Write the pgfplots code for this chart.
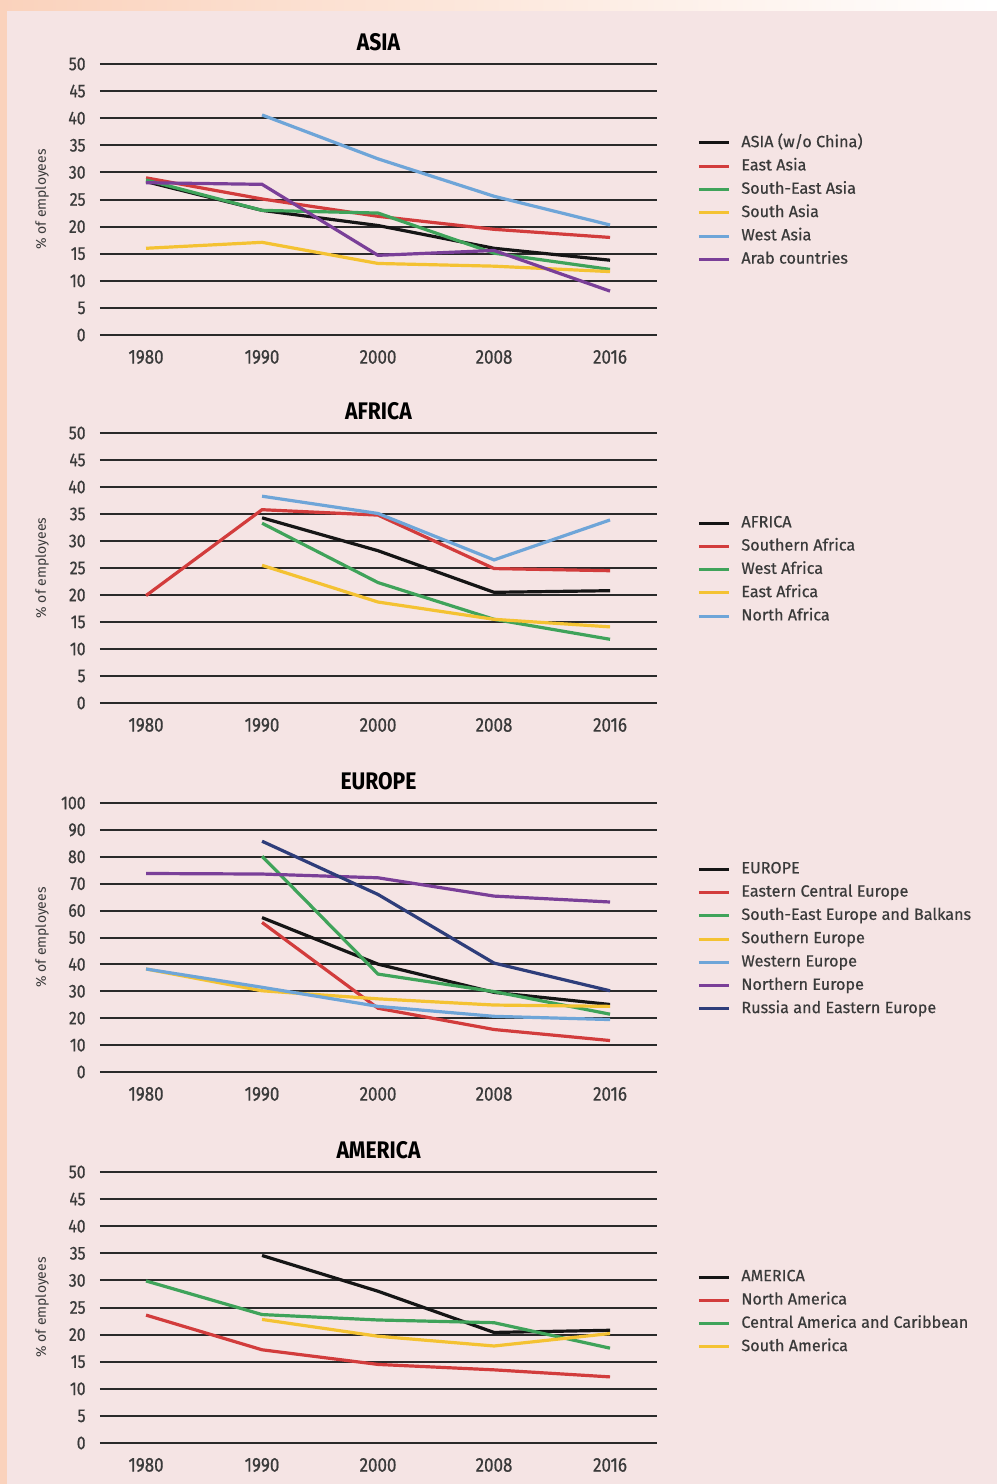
\documentclass[border=0pt]{standalone}
\usepackage{pgfplots}
\pgfplotsset{compat=1.18}
\usepackage{fontspec}
\setmainfont{Fira Sans}
\newfontfamily\legfont{Fira Sans}[FakeBold=0.5]
\newfontfamily\condfont{Fira Sans}[FakeStretch=0.85,FakeBold=0.6]
\newfontfamily\titlefont{Fira Sans}[FakeStretch=0.88]
\definecolor{bgpink}{HTML}{F5E4E4}
\definecolor{bgorange}{HTML}{FAD2BC}
\definecolor{gridc}{HTML}{2A2A2A}
\definecolor{cblack}{HTML}{151515}
\definecolor{cred}{HTML}{D23C3C}
\definecolor{cgreen}{HTML}{3FA35A}
\definecolor{cyellow}{HTML}{F4C232}
\definecolor{cblue}{HTML}{6EA5D8}
\definecolor{cpurple}{HTML}{7A3F98}
\definecolor{cnavy}{HTML}{2E3D7A}
\definecolor{txt}{HTML}{3A3A3A}
\pgfplotsset{
  panel/.style={
    scale only axis, width=278.5pt,
    xmin=-0.397, xmax=4.405, ymin=0,
    axis line style={draw=none}, tick style={draw=none},
    ymajorgrids, grid style={line width=1pt, color=gridc},
    xtick={0,1,2,3,4}, xticklabels={1980,1990,2000,2008,2016},
    /pgf/number format/assume math mode=true,
    xticklabel style={anchor=center, yshift=-11pt, font=\condfont\fontsize{10pt}{11pt}\selectfont, text=txt},
    yticklabel style={anchor=east, inner sep=0pt, xshift=-7pt, font=\condfont\fontsize{9.3pt}{10pt}\selectfont, text=txt},
    ylabel={\% of employees},
    ylabel style={at={(axis description cs:0,0.5)}, anchor=center, yshift=29pt, font=\fontsize{7pt}{8pt}\selectfont, text=txt},
    title style={at={(axis description cs:0.5,1)}, anchor=center, yshift=5pt, font=\titlefont\bfseries\fontsize{12pt}{13pt}\selectfont, text=black},
    every axis plot/.append style={line width=1.6pt, no markers},
    legend style={anchor=north west, draw=none, fill=none, inner sep=0pt,
      font=\legfont\fontsize{8.1pt}{9pt}\selectfont, text=txt,
      nodes={inner sep=0pt, text height=7.9pt, text depth=3.75pt, anchor=west},
      column sep=5.5pt, row sep=0pt},
    legend cell align=left,
    legend image code/.code={\draw[#1, line width=1.5pt] (0pt,0pt) -- (15pt,0pt);},
  }
}
\begin{document}
\begin{tikzpicture}
% background
\fill[bgorange] (0,0) rectangle (498.5pt,-742pt);
\shade[left color=bgorange, right color=white] (0,0) rectangle (498.5pt,-5.5pt);
\fill[bgpink] (3.5pt,-5.5pt) rectangle (498.5pt,-742pt);

% ASIA
\begin{axis}[panel, at={(50pt,-167.5pt)}, anchor=south west, height=135.5pt,
  ymax=50, ytick={0,5,...,50}, title={ASIA},
  legend style={at={(axis description cs:1.0718,0.753)}}]
\addplot[cblack] coordinates {(0,28.3) (1,23) (2,20.2) (3,16) (4,13.8)};
\addplot[cred] coordinates {(0,29) (1,25.1) (2,21.9) (3,19.5) (4,18)};
\addplot[cgreen] coordinates {(0,28.6) (1,23) (2,22.5) (3,15.1) (4,12.1)};
\addplot[cyellow] coordinates {(0,16) (1,17.1) (2,13.2) (3,12.7) (4,11.7)};
\addplot[cblue] coordinates {(1,40.6) (2,32.5) (3,25.6) (4,20.3)};
\addplot[cpurple] coordinates {(0,28.1) (1,27.8) (2,14.7) (3,15.6) (4,8.1)};
\legend{ASIA (w/o China),East Asia,South-East Asia,South Asia,West Asia,Arab countries}
\end{axis}

% AFRICA
\begin{axis}[panel, at={(50pt,-351.5pt)}, anchor=south west, height=135pt,
  ymax=50, ytick={0,5,...,50}, title={AFRICA},
  legend style={at={(axis description cs:1.0718,0.711)}}]
\addplot[cblack] coordinates {(1,34.3) (2,28.2) (3,20.5) (4,20.8)};
\addplot[cred] coordinates {(0,19.9) (1,35.8) (2,34.8) (3,24.9) (4,24.5)};
\addplot[cgreen] coordinates {(1,33.3) (2,22.3) (3,15.5) (4,11.8)};
\addplot[cyellow] coordinates {(1,25.5) (2,18.7) (3,15.5) (4,14.1)};
\addplot[cblue] coordinates {(1,38.3) (2,35.1) (3,26.5) (4,33.9)};
\legend{AFRICA,Southern Africa,West Africa,East Africa,North Africa}
\end{axis}

% EUROPE
\begin{axis}[panel, at={(50pt,-536pt)}, anchor=south west, height=134.5pt,
  ymax=100, ytick={0,10,...,100}, title={EUROPE},
  legend style={at={(axis description cs:1.0718,0.799)}}]
\addplot[cblack] coordinates {(1,57.4) (2,40.1) (3,29.6) (4,25.1)};
\addplot[cred] coordinates {(1,55.6) (2,23.7) (3,15.8) (4,11.7)};
\addplot[cgreen] coordinates {(1,80.2) (2,36.4) (3,29.9) (4,21.5)};
\addplot[cyellow] coordinates {(0,38.3) (1,30.2) (2,27.2) (3,24.9) (4,24.4)};
\addplot[cblue] coordinates {(0,38.3) (1,31.5) (2,24.4) (3,20.7) (4,19.5)};
\addplot[cpurple] coordinates {(0,73.8) (1,73.6) (2,72.2) (3,65.4) (4,63.2)};
\addplot[cnavy] coordinates {(1,85.8) (2,66) (3,40.5) (4,30.2)};
\legend{EUROPE,Eastern Central Europe,South-East Europe and Balkans,Southern Europe,Western Europe,Northern Europe,Russia and Eastern Europe}
\end{axis}

% AMERICA
\begin{axis}[panel, at={(50pt,-721.5pt)}, anchor=south west, height=135.5pt,
  ymax=50, ytick={0,5,...,50}, title={AMERICA},
  legend style={at={(axis description cs:1.0718,0.657)}}]
\addplot[cblack] coordinates {(1,34.6) (2,28) (3,20.4) (4,20.8)};
\addplot[cred] coordinates {(0,23.6) (1,17.2) (2,14.5) (3,13.5) (4,12.2)};
\addplot[cgreen] coordinates {(0,29.9) (1,23.7) (2,22.7) (3,22.2) (4,17.5)};
\addplot[cyellow] coordinates {(1,22.8) (2,19.7) (3,17.9) (4,20.2)};
\legend{AMERICA,North America,Central America and Caribbean,South America}
\end{axis}

\pgfresetboundingbox
\useasboundingbox (0,0) rectangle (498.5pt,-742pt);
\end{tikzpicture}
\end{document}
